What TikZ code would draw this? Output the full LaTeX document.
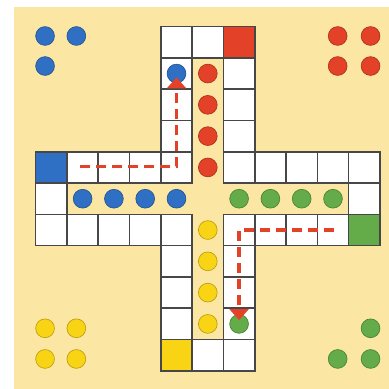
\documentclass[tikz,border=0pt]{standalone}
\usepackage{tikz}
\usetikzlibrary{arrows.meta}
\definecolor{boardbg}{RGB}{251,230,164}
\definecolor{ludoblue}{RGB}{48,112,196}
\definecolor{ludored}{RGB}{228,66,40}
\definecolor{ludogreen}{RGB}{100,172,74}
\definecolor{ludoyellow}{RGB}{248,212,20}
\definecolor{gridgray}{gray}{.28}

\tikzset{
  cell/.style={draw=gridgray, line width=1.4pt, fill=white},
  piece/.style={circle, inner sep=0pt, outer sep=0pt, minimum size=0.6cm,
                fill=#1, draw=#1!75!black, line width=0.6pt},
  move/.style={draw=ludored, line width=3pt, dash pattern=on 9pt off 5.5pt,
               -{Triangle[length=10pt,width=17pt]}}
}

\begin{document}
\begin{tikzpicture}
  \useasboundingbox (-1.14,-0.58) rectangle (11.28,11.85);
  \fill[boardbg] (-0.69,-0.58) rectangle (11.28,11.63);

  \foreach \i in {0,1,2,3,4,6,7,8,9,10} {
    \draw[cell] (4,\i) rectangle ++(1,1);
    \draw[cell] (6,\i) rectangle ++(1,1);
    \draw[cell] (\i,4) rectangle ++(1,1);
    \draw[cell] (\i,6) rectangle ++(1,1);
  }
  \foreach \x/\y in {5/10,5/0,0/5,10/5}
    \draw[cell] (\x,\y) rectangle ++(1,1);

  % start fields
  \draw[cell, fill=ludoblue]   (0,6)  rectangle ++(1,1);
  \draw[cell, fill=ludored]    (6,10) rectangle ++(1,1);
  \draw[cell, fill=ludogreen]  (10,4) rectangle ++(1,1);
  \draw[cell, fill=ludoyellow] (4,0)  rectangle ++(1,1);

  % home rows
  \foreach \k in {1,...,4} {
    \node[piece=ludoblue]   (bluehome\k)   at (\k+0.5,5.5) {};
    \node[piece=ludogreen]  (greenhome\k)  at (\k+5.5,5.5) {};
    \node[piece=ludored]    (redhome\k)    at (5.5,\k+5.5) {};
    \node[piece=ludoyellow] (yellowhome\k) at (5.5,\k+0.5) {};
  }

  % waiting pieces
  \node[piece=ludoblue] (bluewait1) at (0.3,10.7) {};
  \node[piece=ludoblue] (bluewait2) at (1.3,10.7) {};
  \node[piece=ludoblue] (bluewait3) at (0.3,9.74) {};
  \node[piece=ludored] (redwait1) at (9.65,10.7) {};
  \node[piece=ludored] (redwait2) at (10.7,10.7) {};
  \node[piece=ludored] (redwait3) at (9.65,9.74) {};
  \node[piece=ludored] (redwait4) at (10.7,9.74) {};
  \node[piece=ludoyellow] (yellowwait1) at (0.3,1.36) {};
  \node[piece=ludoyellow] (yellowwait2) at (1.3,1.36) {};
  \node[piece=ludoyellow] (yellowwait3) at (0.3,0.38) {};
  \node[piece=ludoyellow] (yellowwait4) at (1.3,0.38) {};
  \node[piece=ludogreen] (greenwait1) at (10.7,1.36) {};
  \node[piece=ludogreen] (greenwait2) at (9.65,0.38) {};
  \node[piece=ludogreen] (greenwait3) at (10.7,0.38) {};

  % pieces on the track
  \node[piece=ludoblue]  (bluemoved)  at (4.5,9.5) {};
  \node[piece=ludogreen] (greenmoved) at (6.5,1.5) {};

  \coordinate (bluefrom)  at (1.42,6.53);
  \coordinate (greenfrom) at (9.53,4.5);
  \draw[move] (bluefrom) -| ([yshift=-0.12cm]bluemoved.center);
  \draw[move] (greenfrom) -| ([yshift=0.12cm]greenmoved.center);
\end{tikzpicture}
\end{document}
